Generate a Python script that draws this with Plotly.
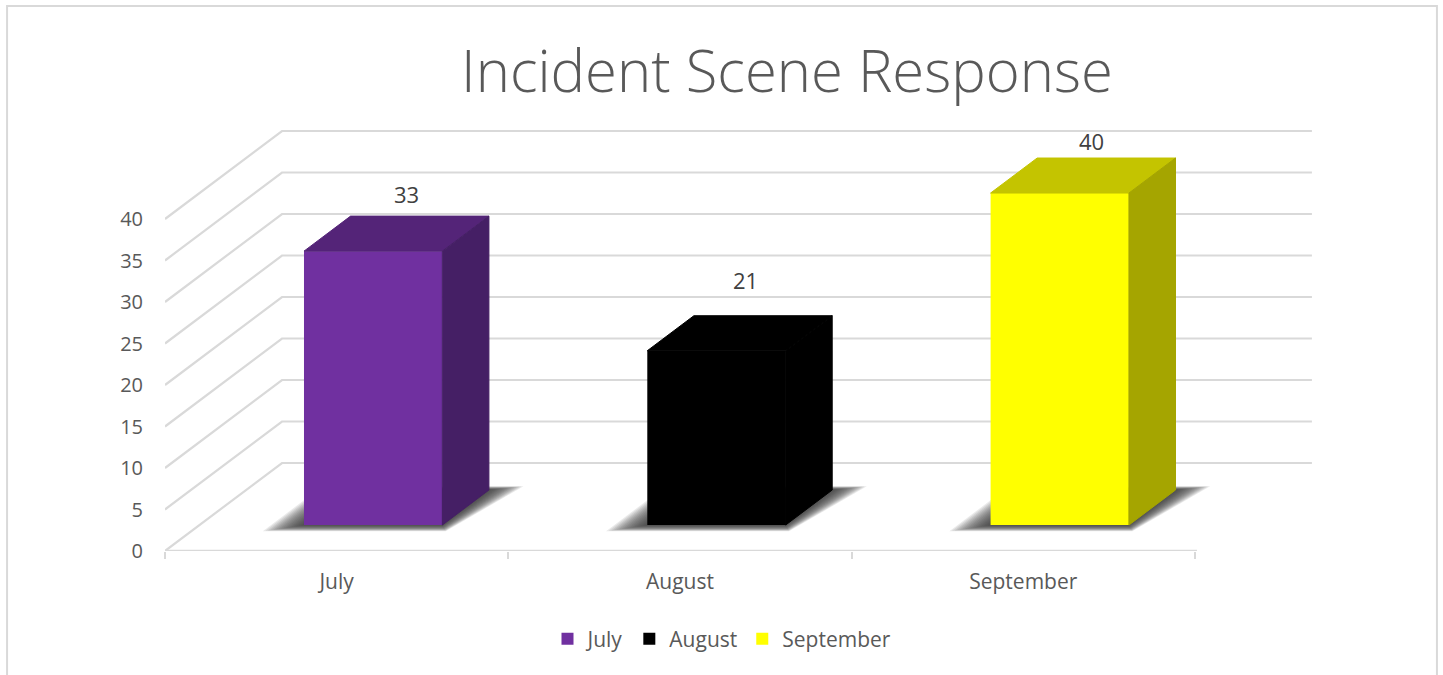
import plotly.graph_objects as go

# ---- data ----
months = ["July", "August", "September"]
values = [33, 21, 40]
value_ticks = [0, 5, 10, 15, 20, 25, 30, 35, 40]
title_text = "Incident Scene Response"

# ---- styles ----
front_colors = ["#7030A0", "#000000", "#FFFF00"]
top_colors = ["#542478", "#000000", "#C4C400"]
side_colors = ["#451F65", "#000000", "#A5A500"]
GRID = "#D9D9D9"
TEXT = "#595959"
FONT = "Open Sans"

# ---- page geometry (pixels) ----
W, H = 1443, 675
PX_LEFT, PX_RIGHT, PX_BOTTOM, PX_TOP = 165, 1330, 551, 120
PX_PER_CAT = 343.3
PX_PER_VAL = 8.3

# oblique projection: depth 0..1 moves right and up on the chart's own axes
DEPTH_X = 117 / PX_PER_CAT
DEPTH_Y = 88 / PX_PER_VAL
BAR_WIDTH = 0.403
BAR_D0, BAR_D1 = 0.295, 0.693
BAR_SHIFT = 2 / PX_PER_CAT
n = len(months)


def proj(u, v, d):
    return u + d * DEPTH_X, v + d * DEPTH_Y


def path(points):
    return "M" + "L".join(f"{a:.4f},{b:.4f}" for a, b in points) + "Z"


def line_path(points):
    return "M" + "L".join(f"{a:.4f},{b:.4f}" for a, b in points)


shapes = []
# floor / side wall / back wall grid
for v in value_ticks:
    pts = [proj(0, v, 0), proj(0, v, 1), proj(n, v, 1)]
    shapes.append(dict(type="path", xref="x", yref="y", path=line_path(pts),
                       line=dict(color=GRID, width=2.2), layer="below"))
# front axis line
shapes.append(dict(type="line", xref="x", yref="y", x0=0, y0=0, x1=n + 0.006, y1=0,
                   line=dict(color=GRID, width=2.5), layer="below"))

fig = go.Figure()

# soft floor shadows, built from stacked translucent layers
SHADOW_LAYERS = 16
for i in range(n):
    c = i + 0.5 + BAR_SHIFT
    u0, u1 = c - BAR_WIDTH / 2, c + BAR_WIDTH / 2
    for k in range(SHADOW_LAYERS):
        t = k / (SHADOW_LAYERS - 1)
        grow = (33 - 31 * t) / PX_PER_CAT
        dd = (0.07 - 0.065 * t)
        pts = [proj(u0 - grow, 0, BAR_D0 - dd), proj(u1 + grow * 0.35, 0, BAR_D0 - dd),
               proj(u1 + grow * 0.9, 0, BAR_D1 + dd * 0.6), proj(u0 - grow, 0, BAR_D1 + dd * 0.6)]
        shapes.append(dict(type="path", xref="x", yref="y", path=path(pts),
                           fillcolor="rgba(45,45,45,0.10)", line=dict(width=0), layer="below"))

# top and side faces
for i, (m, val) in enumerate(zip(months, values)):
    c = i + 0.5 + BAR_SHIFT
    u0, u1 = c - BAR_WIDTH / 2, c + BAR_WIDTH / 2
    top = [proj(u0, val, BAR_D0), proj(u1, val, BAR_D0), proj(u1, val, BAR_D1), proj(u0, val, BAR_D1)]
    side = [proj(u1, 0, BAR_D0), proj(u1, 0, BAR_D1), proj(u1, val, BAR_D1), proj(u1, val, BAR_D0)]
    for poly, col in ((top, top_colors[i]), (side, side_colors[i])):
        xs = [p[0] for p in poly] + [poly[0][0]]
        ys = [p[1] for p in poly] + [poly[0][1]]
        fig.add_trace(go.Scatter(x=xs, y=ys, mode="lines", fill="toself", fillcolor=col,
                                 line=dict(width=1, color=col), showlegend=False, hoverinfo="skip"))

# front faces: real bars
for i, (m, val) in enumerate(zip(months, values)):
    c = i + 0.5 + BAR_SHIFT
    x, base = proj(c, 0, BAR_D0)
    fig.add_trace(go.Bar(x=[x], y=[val], base=[base], width=[BAR_WIDTH], name=m,
                         marker=dict(color=front_colors[i], line=dict(width=0))))

# value labels
label_shift = [(-13, 22), (-18, 36), (-14.5, 17)]
annotations = []
for i, val in enumerate(values):
    c = i + 0.5 + BAR_SHIFT
    x, y = proj(c, val, BAR_D1)
    annotations.append(dict(x=x, y=y, xref="x", yref="y", text=str(val), showarrow=False,
                            xshift=label_shift[i][0], yshift=label_shift[i][1],
                            font=dict(family=FONT, size=22, color="#404040")))

# card border
bx0, bx1, by = 7 / W, 1437 / W, 1 - 6 / H
shapes.append(dict(type="path", xref="paper", yref="paper",
                   path=line_path([(bx0, 0), (bx0, by), (bx1, by), (bx1, 0)]),
                   line=dict(color=GRID, width=2), layer="below"))

fig.update_layout(
    width=W, height=H, margin=dict(l=0, r=0, t=0, b=0, autoexpand=False),
    paper_bgcolor="white", plot_bgcolor="rgba(0,0,0,0)",
    barmode="overlay", shapes=shapes, annotations=annotations,
    font=dict(family=FONT, color=TEXT, size=20),
    title=dict(text=title_text, x=787 / W, xanchor="center", y=1 - 72 / H, yanchor="middle",
               xref="paper", yref="paper",
               font=dict(family=FONT, size=58, color=TEXT, weight=300)),
    xaxis=dict(domain=[PX_LEFT / W, PX_RIGHT / W], range=[0, (PX_RIGHT - PX_LEFT) / PX_PER_CAT],
               tickmode="array", tickvals=[i + 0.5 for i in range(n)], ticktext=months,
               ticks="", showgrid=False, zeroline=False, showline=False, ticklabelstandoff=16,
               tickfont=dict(family=FONT, size=21, color=TEXT),
               minor=dict(tickmode="array", tickvals=list(range(n + 1)), ticks="outside",
                          ticklen=7, tickwidth=2, tickcolor=GRID, showgrid=False)),
    yaxis=dict(domain=[1 - PX_BOTTOM / H, 1 - PX_TOP / H],
               range=[0, (PX_BOTTOM - PX_TOP) / PX_PER_VAL],
               tickmode="array", tickvals=value_ticks, ticks="", showgrid=False,
               zeroline=False, showline=False, ticklabelstandoff=21,
               tickfont=dict(family=FONT, size=20, color=TEXT)),
    legend=dict(orientation="h", x=722 / W, xanchor="center", y=1 - 639 / H, yanchor="middle",
                font=dict(family=FONT, size=21, color=TEXT), bgcolor="rgba(0,0,0,0)",
                traceorder="normal"),
)

fig.write_html("out.html", config=dict(displayModeBar=False),
               post_script="document.body.style.margin='0';document.body.style.overflow='hidden';")
